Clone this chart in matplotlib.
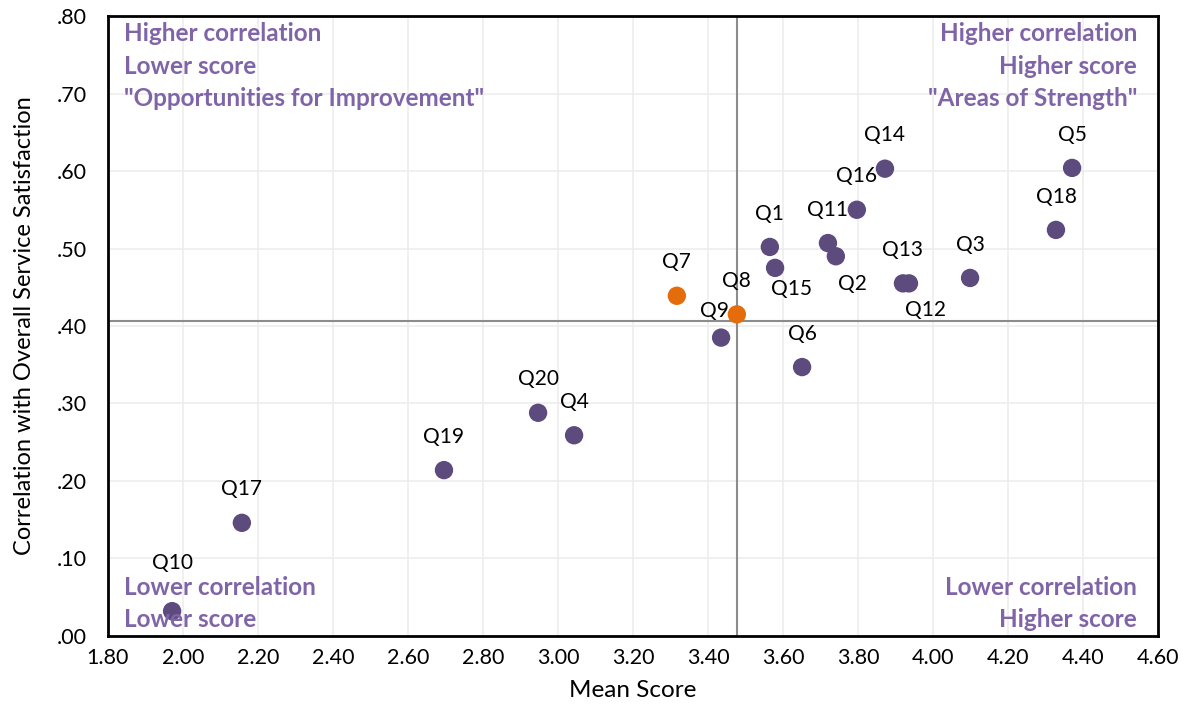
import matplotlib
matplotlib.use("Agg")
import matplotlib.pyplot as plt
from matplotlib.ticker import FuncFormatter, MultipleLocator

plt.rcParams['font.family'] = ['Lato', 'DejaVu Sans']

# data
labels = ['Q1', 'Q2', 'Q3', 'Q4', 'Q5', 'Q6', 'Q7', 'Q8', 'Q9', 'Q10',
          'Q11', 'Q12', 'Q13', 'Q14', 'Q15', 'Q16', 'Q17', 'Q18', 'Q19', 'Q20']
mean_score = [3.565, 3.741, 4.099, 3.043, 4.371, 3.651, 3.317, 3.477, 3.435, 1.971,
              3.720, 3.936, 3.920, 3.872, 3.579, 3.797, 2.157, 4.328, 2.696, 2.947]
correlation = [0.502, 0.490, 0.462, 0.259, 0.604, 0.347, 0.439, 0.415, 0.385, 0.032,
               0.507, 0.455, 0.455, 0.603, 0.475, 0.550, 0.146, 0.524, 0.214, 0.288]
highlight = ['Q7', 'Q8']
mean_line_x = 3.477
mean_line_y = 0.406

# label offsets in points (dx, dy), default is above
offsets = {'Q15': (12, -15), 'Q2': (12, -20), 'Q12': (12, -19),
           'Q9': (-5, 19), 'Q10': (0, 35)}

purple = '#5E4B7E'
orange = '#E46C0A'
text_purple = '#8064A8'

fig = plt.figure(figsize=(11.84, 7.06), dpi=100)
ax = fig.add_axes([0.0912, 0.0992, 0.8868, 0.8781])

ax.axvline(mean_line_x, color='#8C8C8C', lw=1.5, zorder=1)
ax.axhline(mean_line_y, color='#8C8C8C', lw=1.5, zorder=1)

colors = [orange if l in highlight else purple for l in labels]
ax.scatter(mean_score, correlation, s=175, c=colors, edgecolors='none', zorder=3)

for l, x, y in zip(labels, mean_score, correlation):
    dx, dy = offsets.get(l, (0, 24))
    ax.annotate(l, (x, y), xytext=(dx, dy), textcoords='offset points',
                ha='center', va='center', fontsize=15, color='black', zorder=4)

ax.set_xlim(1.8, 4.6)
ax.set_ylim(0, 0.8)
ax.xaxis.set_major_locator(MultipleLocator(0.2))
ax.yaxis.set_major_locator(MultipleLocator(0.1))
ax.xaxis.set_major_formatter(FuncFormatter(lambda v, p: f'{v:.2f}'))
ax.yaxis.set_major_formatter(FuncFormatter(lambda v, p: f'{v:.2f}'.lstrip('0')))
ax.tick_params(length=0, labelsize=15.5)
ax.tick_params(axis='x', pad=9)
ax.tick_params(axis='y', pad=15)
ax.grid(True, color='#EDEDED', lw=1.2, zorder=0)
ax.set_axisbelow(True)
for sp in ax.spines.values():
    sp.set_linewidth(2)
    sp.set_color('black')

ax.set_xlabel('Mean Score', fontsize=17.5, labelpad=8)
ax.set_ylabel('Correlation with Overall Service Satisfaction', fontsize=17, labelpad=16)

qkw = dict(fontsize=17.5, fontweight='bold', color=text_purple, linespacing=1.5, zorder=5)
ax.text(0.015, 0.99, 'Higher correlation\nLower score\n"Opportunities for Improvement"',
        transform=ax.transAxes, ha='left', va='top', **qkw)
ax.text(0.98, 0.99, 'Higher correlation\nHigher score\n"Areas of Strength"',
        transform=ax.transAxes, ha='right', va='top', multialignment='right', **qkw)
ax.text(0.015, 0.008, 'Lower correlation\nLower score',
        transform=ax.transAxes, ha='left', va='bottom', **qkw)
ax.text(0.98, 0.008, 'Lower correlation\nHigher score',
        transform=ax.transAxes, ha='right', va='bottom', multialignment='right', **qkw)

fig.savefig('out.png', dpi=100)
